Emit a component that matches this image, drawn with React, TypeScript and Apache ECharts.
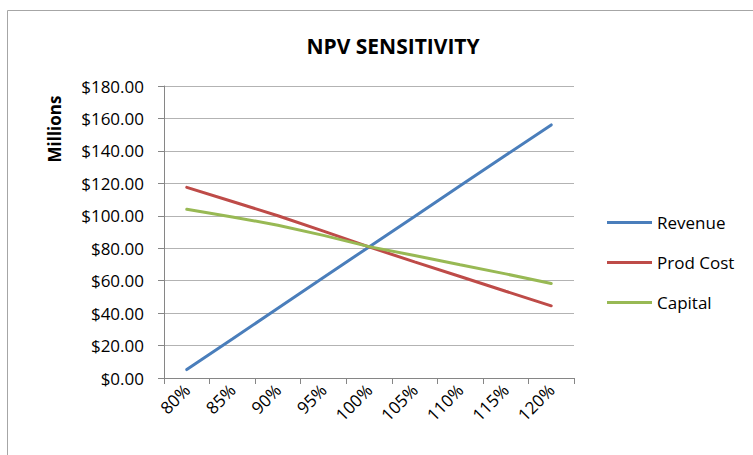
import React, { useEffect, useRef } from "react";
import * as echarts from "echarts";

const categories = ["80%", "85%", "90%", "95%", "100%", "105%", "110%", "115%", "120%"];
const revenue = [5.2, 24, 43, 62, 80.8, 99.5, 118.5, 137.3, 156];
const prodCost = [117.5, 108.8, 100, 90.5, 80.8, 71.6, 62.6, 53.5, 44.5];
const capital = [104, 99.3, 94.2, 87.9, 81, 75.5, 69.8, 64.2, 58.3];
const yTicks = { min: 0, max: 180, interval: 20 };

const FONT = "'Open Sans', 'Noto Sans', sans-serif";

export default function App() {
  const ref = useRef<HTMLDivElement>(null);
  useEffect(() => {
    if (!ref.current) return;
    const chart = echarts.init(ref.current, null, { renderer: "svg" });
    const lineSeries = (name: string, data: number[], color: string) => ({
      name,
      type: "line",
      data,
      symbol: "none",
      smooth: false,
      lineStyle: { color, width: 3, cap: "round" },
      itemStyle: { color },
    });
    chart.setOption({
      animation: false,
      backgroundColor: "#ffffff",
      textStyle: { fontFamily: FONT },
      title: {
        text: "NPV SENSITIVITY",
        left: 388,
        top: 30,
        textAlign: "center",
        textStyle: { fontSize: 21, fontWeight: "bold", color: "#000", fontFamily: FONT },
      },
      graphic: [
        {
          type: "rect",
          shape: { x: 7.5, y: 10.5, width: 900, height: 600 },
          style: { fill: "none", stroke: "#a6a6a6", lineWidth: 1 },
          silent: true,
          z: -1,
        },
        {
          type: "text",
          x: 54,
          y: 129,
          rotation: Math.PI / 2,
          style: {
            text: "Millions",
            fontSize: 17,
            fontWeight: "bold",
            fontFamily: FONT,
            fill: "#000",
            align: "center",
            verticalAlign: "middle",
          },
        },
      ],
      legend: {
        orient: "vertical",
        left: 602,
        top: 207,
        itemWidth: 45,
        itemHeight: 3,
        itemGap: 19,
        icon: "rect",
        textStyle: { fontSize: 17, color: "#000", fontFamily: FONT, lineHeight: 21 },
        data: ["Revenue", "Prod Cost", "Capital"],
      },
      grid: { left: 164, right: 179, top: 86, bottom: 77 },
      xAxis: {
        type: "category",
        data: categories,
        boundaryGap: true,
        axisLine: { lineStyle: { color: "#868686", width: 1 } },
        axisTick: { show: true, length: 6, lineStyle: { color: "#868686" } },
        axisLabel: { rotate: 45, fontSize: 17, color: "#000", margin: 9, fontFamily: FONT },
      },
      yAxis: {
        type: "value",
        min: yTicks.min,
        max: yTicks.max,
        interval: yTicks.interval,
        axisLine: { show: true, lineStyle: { color: "#868686", width: 1 } },
        axisTick: { show: true, length: 6, lineStyle: { color: "#868686" } },
        splitLine: { lineStyle: { color: "#b3b3b3", width: 1 } },
        axisLabel: {
          fontSize: 17,
          color: "#000",
          margin: 20,
          fontFamily: FONT,
          formatter: (v: number) => "$" + v.toFixed(2),
        },
      },
      series: [
        lineSeries("Revenue", revenue, "#4a7ebb"),
        lineSeries("Prod Cost", prodCost, "#be4b48"),
        lineSeries("Capital", capital, "#98b954"),
      ],
    });
    return () => chart.dispose();
  }, []);
  return (
    <div
      ref={ref}
      style={{ position: "fixed", left: 0, top: 0, width: 753, height: 455, background: "#fff" }}
    />
  );
}
